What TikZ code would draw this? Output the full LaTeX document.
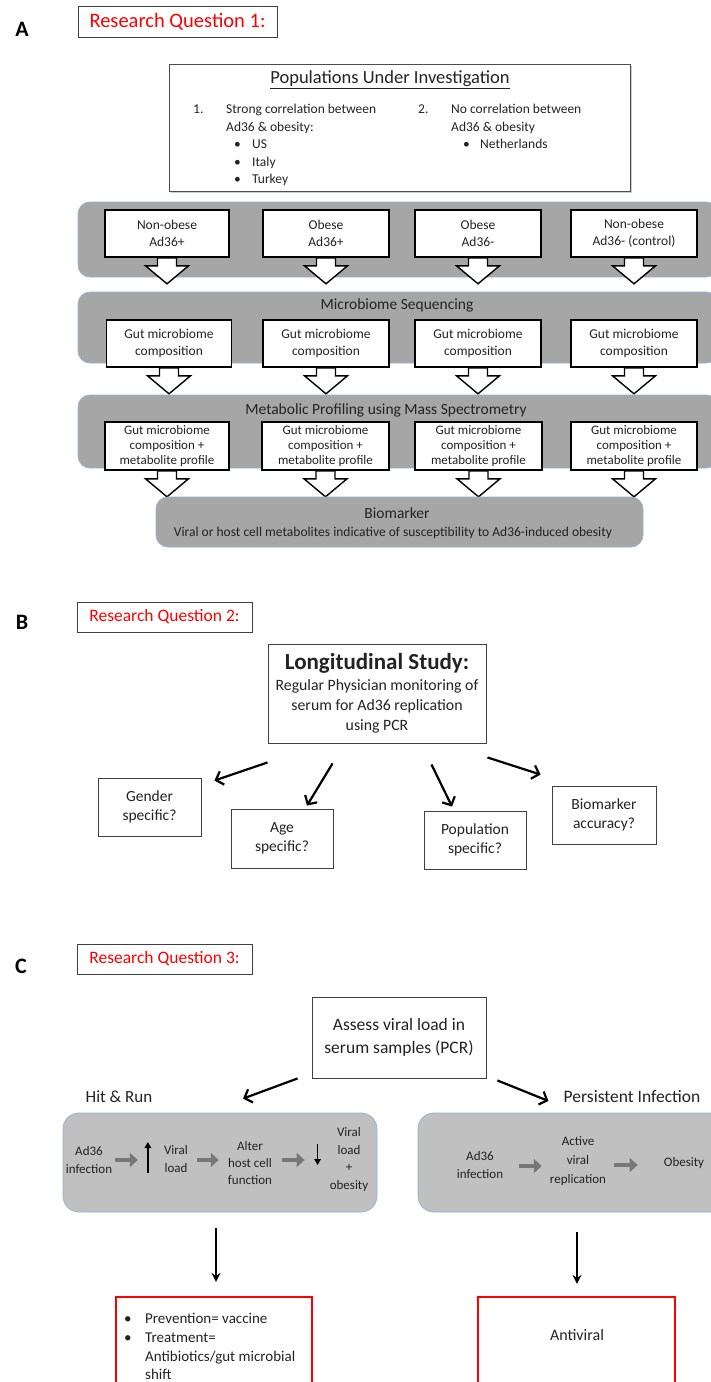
\documentclass[tikz,border=0pt]{standalone}
\usepackage{fontspec}
\setmainfont{Carlito}
\usetikzlibrary{arrows.meta,shadows}
\definecolor{bandA}{RGB}{166,166,166}
\definecolor{bandC}{RGB}{192,192,192}
\definecolor{bandedge}{RGB}{149,179,215}
\definecolor{txt}{RGB}{35,35,35}
\definecolor{grarr}{RGB}{120,120,120}
\newcommand{\fsz}[2]{\fontsize{#1}{#2}\selectfont}
\newcommand{\blkarrow}[1]{%
  \filldraw[blk] ([shift={(-9.5,0)}]#1.south) -- ++(0,8) -- ++(-12,0)
    -- ([shift={(0,26)}]#1.south) -- ([shift={(21.5,8)}]#1.south)
    -- ([shift={(9.5,8)}]#1.south) -- ([shift={(9.5,0)}]#1.south) -- cycle;}
\begin{document}
\begin{tikzpicture}[x=1pt,y=-1pt,
  panel/.style={font=\bfseries\fsz{22}{24}, inner sep=0pt},
  rqbox/.style={draw=black!75, line width=0.9pt, fill=white, text=red, font=\fsz{20.5}{23}, inner sep=0pt,
    drop shadow={shadow xshift=1pt, shadow yshift=-1pt, opacity=0.35}},
  rqsmall/.style={rqbox, font=\fsz{17.5}{20}},
  popbox/.style={draw=black!70, line width=1pt, fill=white, inner sep=0pt,
    drop shadow={shadow xshift=2pt, shadow yshift=-2pt, opacity=0.4}},
  item/.style={font=\fsz{13.5}{17}, text=txt, inner sep=0pt, anchor=base west},
  band/.style={fill=bandA, draw=bandedge, line width=0.8pt, rounded corners=12pt, inner sep=0pt},
  bandc/.style={fill=bandC, draw=bandedge, line width=0.8pt, rounded corners=16pt, inner sep=0pt},
  wbox/.style={draw=black, line width=1.6pt, fill=white, align=center, inner sep=0pt, text=txt, font=\fsz{13.5}{17}},
  wbox3/.style={wbox, font=\fsz{13}{15}},
  blk/.style={fill=white, draw=black, line width=1.4pt, line join=miter},
  bbox/.style={draw=black!75, line width=0.9pt, fill=white, align=center, inner sep=0pt, text=txt, font=\fsz{15.5}{19},
    drop shadow={shadow xshift=1pt, shadow yshift=-1pt, opacity=0.3}},
  barrow/.style={draw=black, line width=2.2pt, -{Straight Barb[length=6.5pt,width=14pt]}},
  ctext/.style={align=center, inner sep=0pt, text=txt, font=\fsz{13}{17.5}},
  grayarr/.style={draw=grarr, line width=4pt, -{Triangle[length=8pt,width=14pt]}},
  varr/.style={draw=black, line width=1.4pt, -{Triangle[length=6pt,width=6.5pt]}},
  darr/.style={draw=black, line width=1.6pt, -{Stealth[length=9pt,width=9pt]}},
  redbox/.style={draw=red, line width=2.2pt, fill=white, inner sep=0pt},
  rtext/.style={font=\fsz{15}{19}, text=txt, inner sep=0pt, anchor=base west}
]
\useasboundingbox (0,0) rectangle (711,1382);
\fill[white] (0,0) rectangle (711,1382);
\clip (0,0) rectangle (711,1382);

% ---------------- Panel A ----------------
\node[panel] (lblA) at (22,29) {A};
\node[rqbox, minimum width=199pt, minimum height=31pt] (rq1) at (177.5,21.5) {Research Question 1:};

\node[popbox, minimum width=461pt, minimum height=127pt] (pop) at (399.5,127.5) {};
\node[font=\fsz{18.5}{21}, text=txt, inner sep=0pt] (popT) at (390,80) {\underline{Populations Under Investigation}};
\node[item] (p1n) at (193,113.5) {1.};
\node[item] (p1a) at (226,113.5) {Strong correlation between};
\node[item] (p1b) at (226,131.5) {Ad36 \& obesity:};
\node[item] (p1c) at (234,148.5) {\textbullet};
\node[item] (p1d) at (252,148.5) {US};
\node[item] (p1e) at (234,166) {\textbullet};
\node[item] (p1f) at (252,166) {Italy};
\node[item] (p1g) at (234,183.5) {\textbullet};
\node[item] (p1h) at (252,183.5) {Turkey};
\node[item] (p2n) at (418,113.5) {2.};
\node[item] (p2a) at (451,113.5) {No correlation between};
\node[item] (p2b) at (451,131.5) {Ad36 \& obesity};
\node[item] (p2c) at (463,148.5) {\textbullet};
\node[item] (p2d) at (480,148.5) {Netherlands};

% band 1
\node[band, minimum width=640pt, minimum height=75pt] (band1) at (398,239.5) {};
\node[wbox, minimum width=124pt, minimum height=47pt] (r1a) at (167,233.5) {Non-obese\\Ad36+};
\node[wbox, minimum width=126pt, minimum height=47pt] (r1b) at (326,233.5) {Obese\\Ad36+};
\node[wbox, minimum width=126pt, minimum height=47pt] (r1c) at (478,233.5) {Obese\\Ad36-};
\node[wbox, minimum width=126pt, minimum height=47pt] (r1d) at (634,233.5) {Non-obese\\Ad36- (control)};
\blkarrow{r1a}\blkarrow{r1b}\blkarrow{r1c}\blkarrow{r1d}

% band 2
\node[band, minimum width=640pt, minimum height=71pt] (band2) at (398,327.5) {};
\node[font=\fsz{15.5}{18}, text=txt, inner sep=0pt] (band2t) at (397,305) {Microbiome Sequencing};
\node[wbox, minimum width=125pt, minimum height=47pt] (r2a) at (169,343.5) {Gut microbiome\\composition};
\node[wbox, minimum width=126pt, minimum height=47pt] (r2b) at (326,343.5) {Gut microbiome\\composition};
\node[wbox, minimum width=126pt, minimum height=47pt] (r2c) at (478,343.5) {Gut microbiome\\composition};
\node[wbox, minimum width=126pt, minimum height=47pt] (r2d) at (634,343.5) {Gut microbiome\\composition};
\blkarrow{r2a}\blkarrow{r2b}\blkarrow{r2c}\blkarrow{r2d}

% band 3
\node[band, minimum width=640pt, minimum height=73pt] (band3) at (398,431.5) {};
\node[font=\fsz{15.5}{18}, text=txt, inner sep=0pt] (band3t) at (386,410) {Metabolic Profiling using Mass Spectrometry};
\node[wbox3, minimum width=124pt, minimum height=48pt] (r3a) at (167,446) {Gut microbiome\\composition +\\metabolite profile};
\node[wbox3, minimum width=127pt, minimum height=48pt] (r3b) at (325.5,446) {Gut microbiome\\composition +\\metabolite profile};
\node[wbox3, minimum width=127pt, minimum height=48pt] (r3c) at (478.5,446) {Gut microbiome\\composition +\\metabolite profile};
\node[wbox3, minimum width=126pt, minimum height=48pt] (r3d) at (634,446) {Gut microbiome\\composition +\\metabolite profile};
\blkarrow{r3a}\blkarrow{r3b}\blkarrow{r3c}\blkarrow{r3d}

% biomarker
\node[band, minimum width=487pt, minimum height=50pt] (bio) at (399.5,522) {};
\node[font=\fsz{15.5}{18}, text=txt, inner sep=0pt] (bioT) at (397,513) {Biomarker};
\node[font=\fsz{13.5}{16}, text=txt, inner sep=0pt] (bioS) at (393,533) {Viral or host cell metabolites indicative of susceptibility to Ad36-induced obesity};

% ---------------- Panel B ----------------
\node[panel] (lblB) at (22,622) {B};
\node[rqsmall, minimum width=175pt, minimum height=30pt] (rq2) at (164.5,617) {Research Question 2:};
\node[bbox, minimum width=218pt, minimum height=99pt, font=\fsz{15.8}{20}] (lon) at (377,693.5)
  {{\fsz{23}{26}\bfseries Longitudinal Study:}\\[1pt]Regular Physician monitoring of\\serum for Ad36 replication\\using PCR};
\node[bbox, minimum width=103pt, minimum height=58pt] (gen) at (149.5,807) {Gender\\specific?};
\node[bbox, minimum width=102pt, minimum height=59pt] (age) at (282,838.5) {Age\\specific?};
\node[bbox, minimum width=102pt, minimum height=58pt] (popu) at (475,840) {Population\\specific?};
\node[bbox, minimum width=104pt, minimum height=58pt] (bma) at (604,815) {Biomarker\\accuracy?};
\draw[barrow] ([shift={(0,19)}]lon.south west) -- ([shift={(13,3)}]gen.north east);
\draw[barrow] ([shift={(65,20)}]lon.south west) -- ([shift={(25,-3)}]age.north);
\draw[barrow] ([shift={(-55,21)}]lon.south east) -- ([shift={(-23,-4)}]popu.north);
\draw[barrow] ([shift={(1,14)}]lon.south east) -- ([shift={(-11,-11)}]bma.north west);

% ---------------- Panel C ----------------
\node[panel] (lblC) at (21,966) {C};
\node[rqsmall, minimum width=175pt, minimum height=30pt] (rq3) at (164.5,959) {Research Question 3:};
\node[bbox, minimum width=174pt, minimum height=81pt, font=\fsz{17.5}{23.5}] (assess) at (399,1037.5)
  {Assess viral load in\\serum samples (PCR)};
\node[font=\fsz{17}{20}, text=txt, inner sep=0pt] (hitl) at (119,1097) {Hit \& Run};
\node[font=\fsz{17.5}{20}, text=txt, inner sep=0pt] (persl) at (632,1096) {Persistent Infection};

\node[bandc, minimum width=314pt, minimum height=99pt] (hr) at (220,1162.5) {};
\node[bandc, minimum width=312pt, minimum height=99pt] (pr) at (574,1162.5) {};
\draw[barrow] ([shift={(-14,0)}]assess.south west) -- ([shift={(23,-14)}]hr.north);
\draw[barrow] ([shift={(11,2)}]assess.south east) -- ([shift={(-15,5)}]persl.west);

\node[ctext, font=\fsz{13}{18}] (hr1) at (89,1160) {Ad36\\infection};
\node[ctext, font=\fsz{13}{18}] (hr2) at (176,1159) {Viral\\load};
\node[ctext, font=\fsz{13}{17}] (hr3) at (250,1163) {Alter\\host cell\\function};
\node[ctext, font=\fsz{13}{17.7}] (hr4) at (349,1159.5) {Viral\\load\\+\\obesity};
\draw[grayarr] ([shift={(2.5,0)}]hr1.east) -- ([shift={(-26,1)}]hr2.west);
\draw[varr] ([shift={(-16,14)}]hr2.west) -- ([shift={(-16,-17)}]hr2.west);
\draw[grayarr] ([shift={(9,1)}]hr2.east) -- ([shift={(-9,-3)}]hr3.west);
\draw[grayarr] ([shift={(10,-3)}]hr3.east) -- ([shift={(-25,0.5)}]hr4.west);
\draw[varr] ([shift={(-12,-15.5)}]hr4.west) -- ([shift={(-12,5.5)}]hr4.west);

\node[ctext, font=\fsz{13}{18}] (pr1) at (480,1165) {Ad36\\infection};
\node[ctext, font=\fsz{13}{19}] (pr2) at (578,1161) {Active\\viral\\replication};
\node[ctext, font=\fsz{13}{18}] (pr3) at (684,1163) {Obesity};
\draw[grayarr] ([shift={(15.5,1)}]pr1.east) -- ([shift={(-8,5)}]pr2.west);
\draw[grayarr] ([shift={(8,4)}]pr2.east) -- ([shift={(-26,2)}]pr3.west);

\node[redbox, minimum width=196pt, minimum height=110pt] (tx1) at (214,1352) {};
\node[redbox, minimum width=197pt, minimum height=110pt] (tx2) at (576.5,1352) {};
\draw[darr] ([shift={(-4,16)}]hr.south) -- ([shift={(2,-14)}]tx1.north);
\draw[darr] ([shift={(3,20)}]pr.south) -- ([shift={(0.5,-12)}]tx2.north);
\node[rtext] (b1) at (124,1323) {\textbullet};
\node[rtext] (t1) at (145,1323) {Prevention= vaccine};
\node[rtext] (b2) at (124,1342) {\textbullet};
\node[rtext] (t2) at (145,1342) {Treatment=};
\node[rtext] (t3) at (145,1361) {Antibiotics/gut microbial};
\node[rtext] (t4) at (145,1379) {shift};
\node[font=\fsz{16}{19}, text=txt, inner sep=0pt] (anti) at (577,1335) {Antiviral};
\end{tikzpicture}
\end{document}
